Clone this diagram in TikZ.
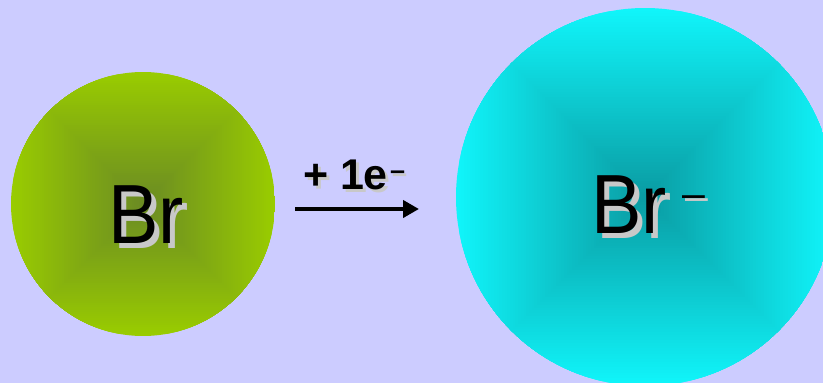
\documentclass[tikz,border=0pt]{standalone}
\usepackage{fontspec}
\setmainfont{Liberation Sans}
\usetikzlibrary{arrows.meta}
\definecolor{bg}{HTML}{CCCCFF}
\definecolor{lOut}{HTML}{99CC00}
\definecolor{lIn}{HTML}{6B8B23}
\definecolor{rOut}{HTML}{10F5FA}
\definecolor{rIn}{HTML}{0A9CA3}
\definecolor{shadowgray}{HTML}{C8C8C8}
\begin{document}
\begin{tikzpicture}[x=1pt,y=-1pt,
  lbl/.style={inner sep=0pt,outer sep=0pt,anchor=base west},
  bigtext/.style={lbl,font=\fontsize{84}{84}\selectfont},
  bigminus/.style={lbl,font=\fontsize{41}{41}\selectfont},
  eqtext/.style={lbl,font=\bfseries\fontsize{43}{43}\selectfont},
  eqminus/.style={lbl,font=\bfseries\fontsize{27}{27}\selectfont},
  shadowed/.style={text=shadowgray},
  reaction/.style={line width=4.5pt,-{Triangle[length=16pt,width=17pt]}}]
\fill[bg] (0,0) rectangle (823,383);
\useasboundingbox (0,0) rectangle (823,383);
% left atom (Br)
\begin{scope}
  \clip (143,204) circle[radius=132];
  \foreach \i in {0,...,59}{
    \pgfmathsetmacro\s{132*(1-\i/60)}
    \pgfmathsetmacro\p{100*\i/59}
    \fill[lIn!\p!lOut] (143-\s,204-\s) rectangle (143+\s,204+\s);
  }
\end{scope}
% right atom (Br-)
\begin{scope}
  \clip (645,197) circle[radius=189];
  \foreach \i in {0,...,69}{
    \pgfmathsetmacro\s{189*(1-\i/70)}
    \pgfmathsetmacro\p{100*\i/69}
    \fill[rIn!\p!rOut] (645-\s,197-\s) rectangle (645+\s,197+\s);
  }
\end{scope}
% labels
\node[bigtext,shadowed] (brLs) at (113.5,248) {\scalebox{0.9}[1]{Br}};
\node[bigtext] (brL) at (108.5,243) {\scalebox{0.9}[1]{Br}};
\node[bigtext,shadowed] (brRs) at (596.5,238) {\scalebox{0.9}[1]{Br}};
\node[bigtext] (brR) at (591.5,233) {\scalebox{0.9}[1]{Br}};
\node[bigminus,shadowed] (mRs) at (685,210) {–};
\node[bigminus] (mR) at (682,207) {–};
\node[eqtext,shadowed] (pls) at (306,192) {+ 1e};
\node[eqtext] (pl) at (303,189) {+ 1e};
\node[eqminus,shadowed] (mLs) at (392,182.5) {–};
\node[eqminus] (mL) at (390,179.5) {–};
% arrow
\coordinate (a1) at (295,209);
\coordinate (a2) at (419,209);
\draw[reaction] (a1) -- (a2);
\end{tikzpicture}
\end{document}
